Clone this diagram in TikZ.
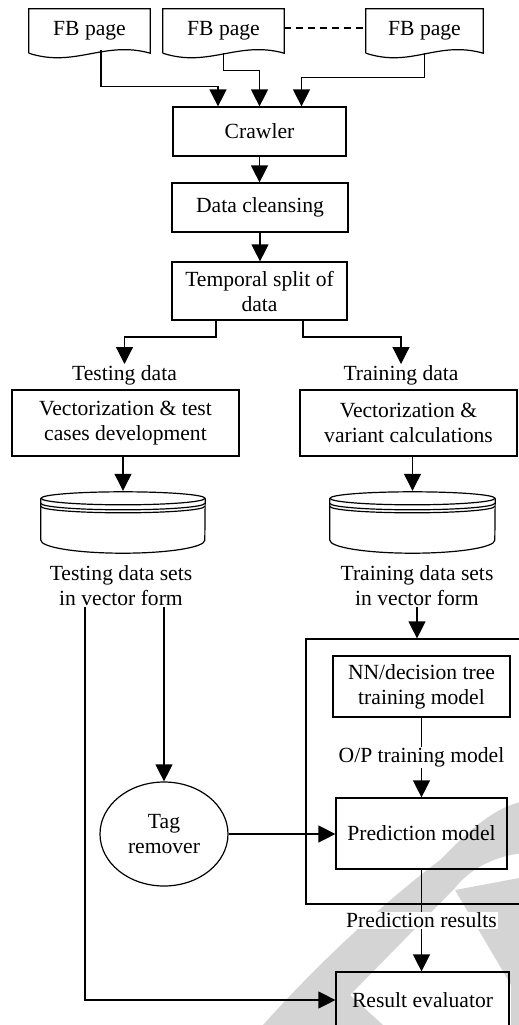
\documentclass[tikz,border=0pt]{standalone}
\usepackage{fontspec}
\setmainfont{Liberation Serif}
\usetikzlibrary{arrows.meta,shapes.geometric}

% document-style page outline with a wavy bottom edge
\newcommand\fbshape[1]{%
  \draw[ln] (#1.south west) -- (#1.north west) -- (#1.north east) -- (#1.south east)
    .. controls ([xshift=-46pt,yshift=13pt]#1.south east) and ([xshift=46pt,yshift=-15pt]#1.south west) .. (#1.south west);}
% stacked disk (data store)
\newcommand\diskshape[1]{%
  \draw[ln] ([yshift=-7.5pt]#1.north) ellipse[x radius=0.5*\pgfkeysvalueof{/pgf/minimum width}, y radius=6.5pt];
  \draw[ln] ([yshift=-12.5pt]#1.north west) arc[start angle=180,end angle=360,x radius=0.5*\pgfkeysvalueof{/pgf/minimum width},y radius=6.5pt];
  \draw[ln] ([yshift=-15.5pt]#1.north west) arc[start angle=180,end angle=360,x radius=0.5*\pgfkeysvalueof{/pgf/minimum width},y radius=6.5pt];
  \draw[ln] ([yshift=-7.5pt]#1.north west) -- ([yshift=13pt]#1.south west)
    arc[start angle=180,end angle=360,x radius=0.5*\pgfkeysvalueof{/pgf/minimum width},y radius=13pt]
    -- ([yshift=-7.5pt]#1.north east);}

\begin{document}
\begin{tikzpicture}[x=1pt,y=-1pt,
  every node/.style={font=\fontsize{21.6}{25}\selectfont},
  ln/.style={line width=1.2pt},
  arr/.style={ln,-{Triangle[length=17pt,width=17pt]}},
  box/.style={draw,ln,inner sep=0pt,align=center},
  fb/.style={inner sep=0pt,minimum height=44pt},
  lbl/.style={inner sep=1pt,align=center},
  wlbl/.style={lbl,fill=white},
  wm/.style={fill=black!17}]
\useasboundingbox (0,0) rectangle (519,1025);
\clip (0,0) rectangle (519,1025);

% background mark
\fill[wm] (263,1025) .. controls (330,950) and (400,890) .. (440,860)
  .. controls (470,830) and (495,805) .. (530,800) -- (530,853)
  .. controls (500,853) and (470,868) .. (455,888) -- (350,995) -- (383,1025) -- cycle;
\fill[wm] (455,890) -- (530,876) -- (530,1025) -- (511,1025) -- (511,985) -- cycle;

% sources
\node[fb,minimum width=121pt] (fb1) at (89.5,31) {FB page};
\node[fb,minimum width=121pt] (fb2) at (223.5,31) {FB page};
\node[fb,minimum width=117pt] (fb3) at (424.5,31) {FB page};
\fbshape{fb1}\fbshape{fb2}\fbshape{fb3}
\draw[ln,dash pattern=on 7pt off 5pt] ([yshift=3pt]fb2.east) -- ([yshift=3pt]fb3.west);

% pipeline
\node[box,minimum width=173pt,minimum height=49pt] (crawler) at (259.5,131.5) {Crawler};
\node[box,minimum width=176pt,minimum height=49pt] (clean) at (260,207.5) {Data cleansing};
\node[box,minimum width=175pt,minimum height=58pt] (split) at (259.5,291) {Temporal split of\\data};

\draw[arr] ([xshift=11.5pt,yshift=3pt]fb1.south) |- ([xshift=-41.5pt,yshift=20pt]crawler.north) -- ([xshift=-41.5pt]crawler.north);
\draw[arr] (fb2.south) |- ([yshift=36pt]crawler.north) -- (crawler.north);
\draw[arr] (fb3.south) |- ([xshift=42pt,yshift=29pt]crawler.north) -- ([xshift=42pt]crawler.north);
\draw[arr] (crawler.south) -- (crawler.south |- clean.north);
\draw[arr] (clean.south) -- (clean.south |- split.north);

\node[lbl,anchor=north] (testing) at (124.5,364) {Testing data};
\node[lbl,anchor=north] (training) at (401,364) {Training data};
\draw[arr] ([xshift=-43.5pt]split.south) |- ([yshift=27pt]testing.north) -- (testing.north);
\draw[arr] ([xshift=43.5pt]split.south) |- ([yshift=27pt]training.north) -- (training.north);

\node[box,minimum width=227pt,minimum height=66pt] (vec1) at (125.5,423) {Vectorization \& test\\cases development};
\node[box,minimum width=217pt,minimum height=66pt] (vec2) at (408.5,423) {Vectorization \&\\variant calculations};

\node[inner sep=0pt,minimum width=164pt,minimum height=62pt] (db1) at (123,522) {};
\node[inner sep=0pt,minimum width=165pt,minimum height=62pt] (db2) at (412.5,522) {};
\begin{scope}[minimum width=164pt]\diskshape{db1}\end{scope}
\begin{scope}[minimum width=165pt]\diskshape{db2}\end{scope}
\draw[arr] (vec1.south -| db1.north) -- (db1.north);
\draw[arr] (vec2.south -| db2.north) -- (db2.north);

\node[lbl] (tds) at (121,586) {Testing data sets\\in vector form};
\node[lbl] (trds) at (417,586) {Training data sets\\in vector form};

% model block
\node[box,minimum width=224pt,minimum height=265pt] (outer) at (418,771.5) {};
\node[box,minimum width=177pt,minimum height=61pt] (nn) at (421.5,686.5) {NN/decision tree\\training model};
\node[box,minimum width=171pt,minimum height=71pt] (pred) at (421.5,833.5) {Prediction model};
\node[draw,ln,ellipse,inner sep=0pt,minimum width=128pt,minimum height=104pt,align=center] (tag) at (164,834) {Tag\\remover};
\node[box,minimum width=173pt,minimum height=56pt] (result) at (422.5,1000) {Result evaluator};

\draw[arr] (trds.south) -- (trds.south |- outer.north);
\draw[arr] (nn.south) -- (pred.north) node[wlbl,midway] {O/P training model};
\draw[arr] (pred.south) -- (pred.south |- result.north) node[wlbl,midway] {Prediction results};
\draw[arr] (tag.north |- tds.south) -- (tag.north);
\draw[arr] (tag.east) -- (tag.east -| pred.west);
\draw[arr] ([xshift=-36pt]tds.south) |- (result.west);
\end{tikzpicture}
\end{document}
